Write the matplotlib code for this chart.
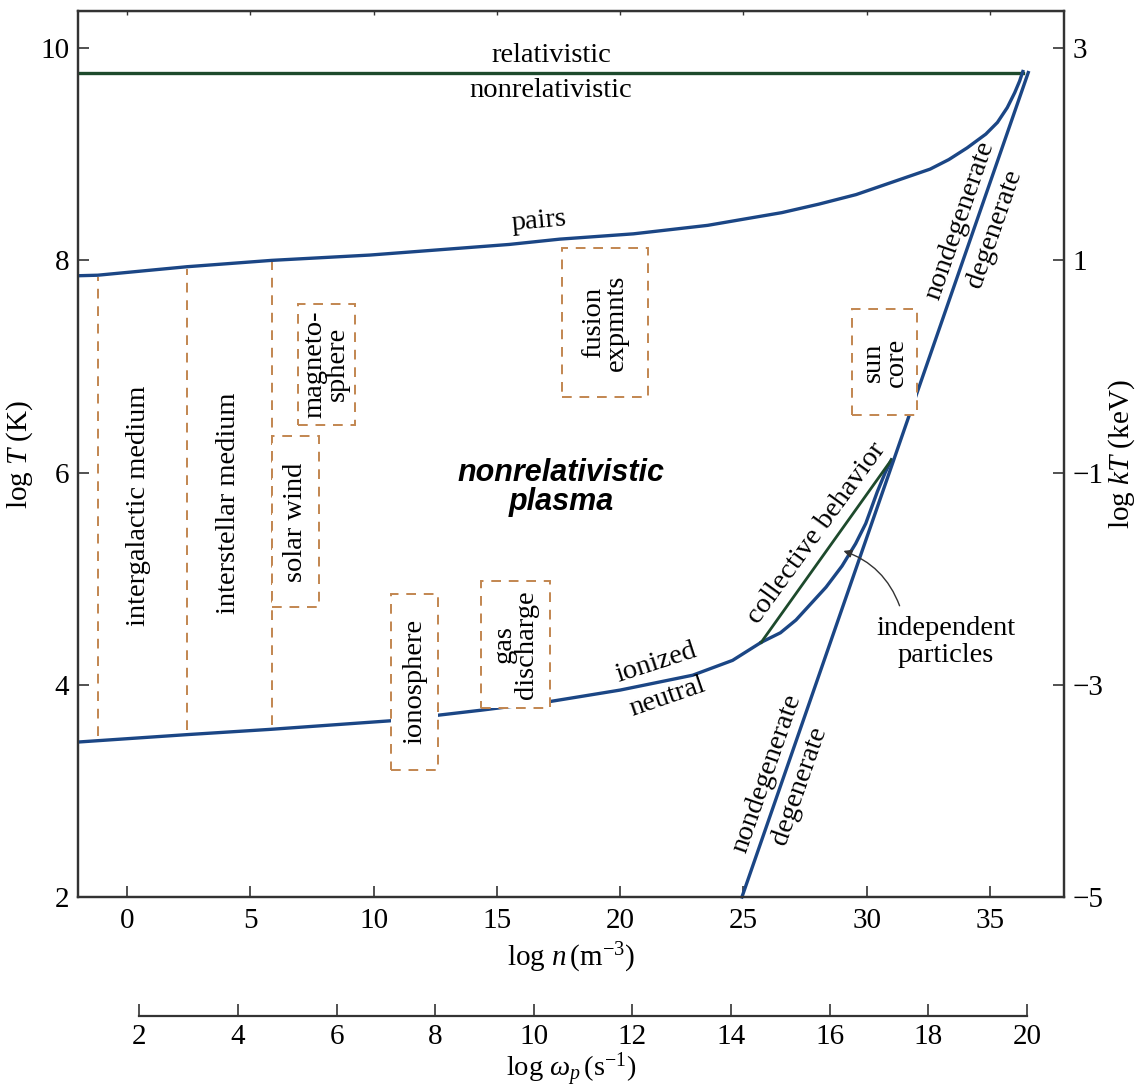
import numpy as np
import matplotlib as mpl
import matplotlib.pyplot as plt
from matplotlib.patches import Rectangle, FancyArrowPatch

mpl.rcParams['font.family'] = 'Liberation Serif'
mpl.rcParams['mathtext.fontset'] = 'custom'
mpl.rcParams['mathtext.rm'] = 'Liberation Serif'
mpl.rcParams['mathtext.it'] = 'Liberation Serif:italic'
mpl.rcParams['font.size'] = 20.5

#%% data: log n (m^-3) vs log T (K)
rel_n = [-2.0, 36.35]
rel_T = [9.77, 9.77]

pairs_n = [-2.0, -1.19, 2.43, 5.87, 9.85, 15.5, 17.55, 20.54, 23.55, 25.05, 26.56,
           28.06, 29.57, 31.07, 32.57, 33.33, 34.07, 34.83, 35.3, 35.7, 36.0,
           36.2, 36.33]
pairs_T = [7.855, 7.86, 7.94, 8.0, 8.05, 8.15, 8.2, 8.25, 8.33, 8.39, 8.45,
           8.53, 8.62, 8.74, 8.86, 8.95, 9.06, 9.19, 9.30, 9.44, 9.58,
           9.69, 9.78]

neutral_n = [-2.0, 2.43, 5.83, 10.66, 14.35, 17.1, 20.0, 22.94, 24.56, 25.72]
neutral_T = [3.46, 3.53, 3.58, 3.66, 3.76, 3.84, 3.95, 4.09, 4.23, 4.40]

indep_n = [25.72, 26.5, 27.13, 28.35, 29.0, 29.55, 29.96, 30.43, 30.75, 31.0]
indep_T = [4.40, 4.49, 4.61, 4.92, 5.12, 5.33, 5.52, 5.82, 6.0, 6.12]

collective_n = [25.72, 31.0]
collective_T = [4.40, 6.12]

degen_n = [24.94, 36.55]
degen_T = [2.0, 9.77]

# vertical dividers of the diffuse media
divider_n = [-1.19, 2.43, 5.87]

# boxed regions: label, n_min, n_max, T_min, T_max
box_labels = ['magneto-\nsphere', 'solar wind', 'ionosphere', 'gas\ndischarge',
              'fusion\nexpmnts', 'sun\ncore']
box_nmin = [6.92, 5.90, 10.72, 14.36, 17.66, 29.42]
box_nmax = [9.23, 7.79, 12.63, 17.14, 21.12, 32.05]
box_Tmin = [6.45, 4.73, 3.20, 3.78, 6.71, 6.54]
box_Tmax = [7.59, 6.34, 4.86, 4.98, 8.12, 7.54]

n_ticks = [0, 5, 10, 15, 20, 25, 30, 35]
T_ticks = [2, 4, 6, 8, 10]
kT_ticks = [3, 1, -1, -3, -5]
wp_ticks = [2, 4, 6, 8, 10, 12, 14, 16, 18, 20]

kT_offset = 7.0              # log kT(keV) = log T(K) - 7
wp_offset = np.log10(56.4)   # log wp = 0.5 log n + log 56.4

#%% figure
blue = '#1b4685'
green = '#1d4a2c'
dash = '#c28650'
spine = '#333333'

fig = plt.figure(figsize=(11.42, 10.92), dpi=100)
ax = fig.add_axes([0.068, 0.1786, 0.8637, 0.8113])
ax.set_xlim(-2, 38)
ax.set_ylim(2, 10.35)

ax.plot(rel_n, rel_T, color=green, lw=2.4, zorder=3)
ax.plot(pairs_n, pairs_T, color=blue, lw=2.4, zorder=3)
ax.plot(neutral_n, neutral_T, color=blue, lw=2.4, zorder=3)
ax.plot(indep_n, indep_T, color=blue, lw=2.4, zorder=3)
ax.plot(collective_n, collective_T, color=green, lw=2.0, zorder=3)
ax.plot(degen_n, degen_T, color=blue, lw=2.4, zorder=3, clip_on=False)

for n in divider_n:
    top = np.interp(n, pairs_n, pairs_T)
    bot = np.interp(n, neutral_n, neutral_T)
    ax.plot([n, n], [bot + 0.04, top - 0.02], color=dash, lw=1.4,
            dashes=(5, 4), zorder=2)

for lab, n0, n1, t0, t1 in zip(box_labels, box_nmin, box_nmax, box_Tmin, box_Tmax):
    ax.add_patch(Rectangle((n0, t0), n1 - n0, t1 - t0, facecolor='white',
                           edgecolor=dash, lw=1.4, linestyle=(0, (5, 4)), zorder=4))
    ax.text((n0 + n1) / 2, (t0 + t1) / 2, lab, rotation=90, ha='center',
            va='center', linespacing=0.85, zorder=5)

ax.text(0.47, 5.69, 'intergalactic medium', rotation=90, ha='center', va='center')
ax.text(4.1, 5.71, 'interstellar medium', rotation=90, ha='center', va='center')

ax.text(17.2, 9.93, 'relativistic', ha='center', va='center')
ax.text(17.2, 9.60, 'nonrelativistic', ha='center', va='center')
ax.text(16.7, 8.37, 'pairs', ha='center', va='center', rotation=5)
ax.text(21.45, 4.21, 'ionized', ha='center', va='center', rotation=18)
ax.text(21.9, 3.88, 'neutral', ha='center', va='center', rotation=19)
ax.text(27.95, 5.43, 'collective behavior', ha='center', va='center', rotation=54)
ax.text(33.2, 4.40, 'independent\nparticles', ha='center', va='center',
        linespacing=1.1)
ax.text(33.78, 8.38, 'nondegenerate', ha='center', va='center', rotation=70.8)
ax.text(35.2, 8.30, 'degenerate', ha='center', va='center', rotation=70.8)
ax.text(25.93, 3.16, 'nondegenerate', ha='center', va='center', rotation=70.8)
ax.text(27.27, 3.05, 'degenerate', ha='center', va='center', rotation=70.8)

ax.text(17.6, 5.86, 'nonrelativistic\nplasma', ha='center', va='center',
        family='Liberation Sans', weight='bold', style='italic', size=22,
        linespacing=0.95)

arrow = FancyArrowPatch((31.37, 4.72), (28.95, 5.27), arrowstyle='-|>',
                        mutation_scale=12, color='#333333', lw=1.0,
                        connectionstyle='arc3,rad=0.25', zorder=6)
ax.add_patch(arrow)

for s in ax.spines.values():
    s.set_color(spine)
    s.set_linewidth(1.6)
ax.set_xticks(n_ticks)
ax.set_yticks(T_ticks)
ax.tick_params(direction='in', length=8, width=1.2, color=spine, labelsize=21)
ax.tick_params(axis='x', pad=8)
ax.tick_params(axis='y', pad=6)
ax.set_xlabel('log $n\\,$(m$^{-3}$)', fontsize=21, labelpad=5)
ax.set_ylabel('log $T$ (K)', fontsize=21, labelpad=4)

top = ax.secondary_xaxis('top')
top.set_xticks(n_ticks)
top.tick_params(direction='in', length=3, width=1.0, color=spine, labeltop=False)

ax2 = ax.twinx()
ax2.set_ylim(2 - kT_offset, 10.35 - kT_offset)
ax2.set_yticks(kT_ticks)
ax2.tick_params(direction='in', length=8, width=1.2, color=spine, labelsize=21, pad=6)
ax2.set_ylabel('log $kT$ (keV)', fontsize=21, labelpad=2)
for s in ax2.spines.values():
    s.set_color(spine)
    s.set_linewidth(1.6)

# plasma frequency scale
axw = fig.add_axes([0.068, 0.0696, 0.8637, 0.01])
axw.set_xlim(0.5 * -2 + wp_offset, 0.5 * 38 + wp_offset)
axw.set_yticks([])
for k in ['top', 'left', 'right']:
    axw.spines[k].set_visible(False)
axw.spines['bottom'].set_bounds(wp_ticks[0], wp_ticks[-1])
axw.spines['bottom'].set_color(spine)
axw.spines['bottom'].set_linewidth(1.6)
axw.patch.set_alpha(0)
axw.set_xticks(wp_ticks)
axw.tick_params(direction='in', length=9, width=1.2, color=spine, labelsize=21, pad=6)
axw.set_xlabel('log $\\omega_p\\,$(s$^{-1}$)', fontsize=20.5, labelpad=0)

fig.savefig('out.png', dpi=100)
